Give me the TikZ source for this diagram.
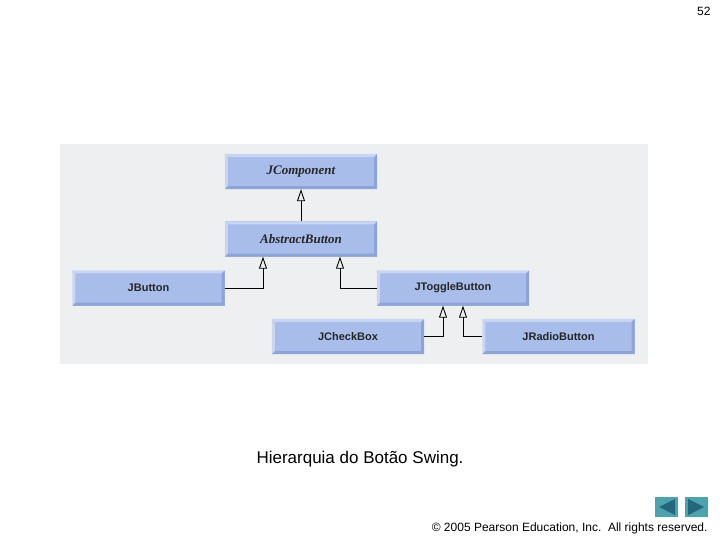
\documentclass[tikz,border=0pt]{standalone}
\usepackage{fontspec}
\setmainfont{Liberation Sans}
\newfontfamily\italfont{Liberation Serif}
\usetikzlibrary{arrows.meta}
\definecolor{panel}{HTML}{EEEFF0}
\definecolor{boxfill}{HTML}{A8BDEA}
\definecolor{boxlight}{HTML}{C8D6F4}
\definecolor{boxdark}{HTML}{8DA4D8}
\definecolor{navteal}{HTML}{4DA2B0}
\definecolor{navdark}{HTML}{24677A}
\tikzset{
  classbox/.style={rectangle, fill=boxfill, minimum width=152pt, minimum height=35pt, inner sep=0pt, text=black!85, font=\bfseries\fontsize{11}{13}\selectfont},
  italbox/.style={classbox, font=\italfont\bfseries\itshape\fontsize{13}{15}\selectfont},
  inherit/.style={draw=black, line width=0.9pt, -{Triangle[open, length=12pt, width=8pt, line width=0.9pt]}},
}
\newcommand{\bevel}[1]{%
  \fill[boxlight] (#1.north west) -- (#1.north east) -- ([xshift=-3pt,yshift=-3pt]#1.north east) -- ([xshift=3pt,yshift=-3pt]#1.north west) -- cycle;
  \fill[boxlight] (#1.north west) -- ([xshift=3pt,yshift=-3pt]#1.north west) -- ([xshift=3pt,yshift=3pt]#1.south west) -- (#1.south west) -- cycle;
  \fill[boxdark] (#1.north east) -- (#1.south east) -- ([xshift=-3pt,yshift=3pt]#1.south east) -- ([xshift=-3pt,yshift=-3pt]#1.north east) -- cycle;
  \fill[boxdark] (#1.south west) -- (#1.south east) -- ([xshift=-3pt,yshift=3pt]#1.south east) -- ([xshift=3pt,yshift=3pt]#1.south west) -- cycle;
}
\begin{document}
\begin{tikzpicture}[x=1pt, y=-1pt]
\useasboundingbox (0,0) rectangle (720,540);
\fill[white] (0,0) rectangle (720,540);
\fill[panel] (60,144) rectangle (648,364);

\node[italbox] (jc) at (301,171.5) {};
\node[italbox] (ab) at (301,239) {};
\node[classbox] (jb) at (148.5,288) {};
\node[classbox] (jt) at (453,288) {};
\node[classbox] (cb) at (348,336.5) {};
\node[classbox] (rb) at (558.5,336.5) {};
\bevel{jc}\bevel{ab}\bevel{jb}\bevel{jt}\bevel{cb}\bevel{rb}
\node[italbox, fill=none] at (jc) {JComponent};
\node[italbox, fill=none] at (ab) {AbstractButton};
\node[classbox, fill=none] at (jb) {JButton};
\node[classbox, fill=none] at (jt) {JToggleButton};
\node[classbox, fill=none] at (cb) {JCheckBox};
\node[classbox, fill=none] at (rb) {JRadioButton};

\draw[inherit] (ab.north) -- (jc.south);
\draw[inherit] (jb.east) -| ([xshift=-38pt]ab.south);
\draw[inherit] (jt.west) -| ([xshift=39pt]ab.south);
\draw[inherit] (cb.east) -| ([xshift=-10pt]jt.south);
\draw[inherit] (rb.west) -| ([xshift=10pt]jt.south);

\node[font=\fontsize{17}{20}\selectfont] (cap) at (360,459) {Hierarquia do Botão Swing.};
\node[font=\fontsize{12}{14}\selectfont, anchor=east] (foot) at (711,528) {© 2005 Pearson Education, Inc.\ \ All rights reserved.};
\node[font=\fontsize{12}{14}\selectfont, anchor=east] (pg) at (714,11) {52};

\fill[navteal] (655,497) rectangle (678,517);
\fill[navteal] (685,497) rectangle (708,517);
\fill[navdark] (659,507) -- (675,499) -- (675,515) -- cycle;
\fill[navdark] (704,507) -- (688,499) -- (688,515) -- cycle;
\end{tikzpicture}
\end{document}
